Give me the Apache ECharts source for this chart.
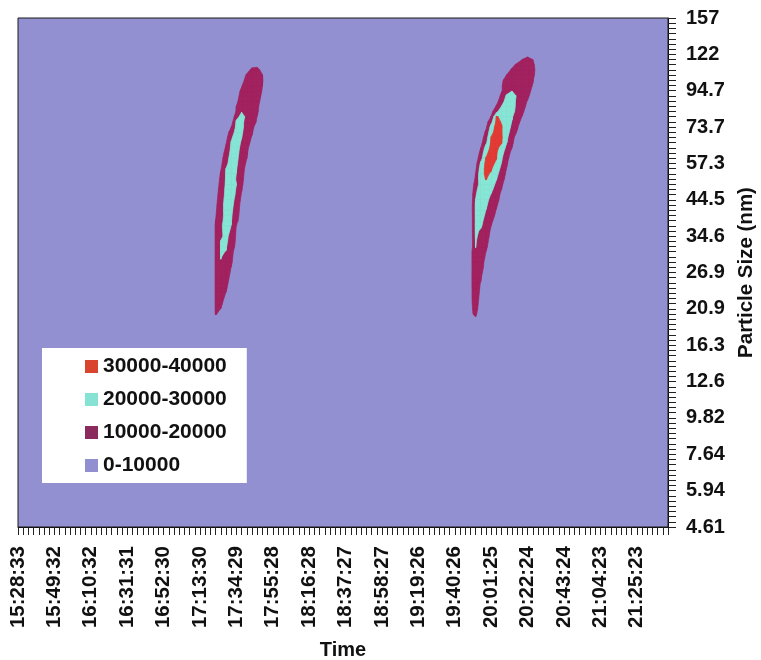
<!DOCTYPE html>
<html>
<head>
<meta charset="utf-8">
<script src="https://cdn.jsdelivr.net/npm/echarts@6/dist/echarts.min.js"></script>
<style>
  html, body { margin: 0; padding: 0; background: #ffffff; }
  #chart { width: 761px; height: 660px; }
</style>
</head>
<body>
<div id="chart"></div>
<script>
// Time axis: one labelled scan out of every seven
const timeLabels = ['15:28:33', '15:49:32', '16:10:32', '16:31:31', '16:52:30', '17:13:30',
  '17:34:29', '17:55:28', '18:16:28', '18:37:27', '18:58:27', '19:19:26', '19:40:26',
  '20:01:25', '20:22:24', '20:43:24', '21:04:23', '21:25:23'];
// Size channels, bottom to top: one labelled channel out of every seven
const sizeLabels = ['4.61', '5.94', '7.64', '9.82', '12.6', '16.3', '20.9', '26.9',
  '34.6', '44.5', '57.3', '73.7', '94.7', '122', '157'];
const scansPerLabel = 7;
const channelsPerLabel = 7;
const scanCount = 126;
const channelCount = 99;

// Number concentration (x1000 per cm3) around the first growth event,
// rows from channel 40 upwards, columns from scan 36.
const eventOneScan = 36;
const eventOneChannel = 40;
const eventOne = [
  [0, 2, 6, 4],
  [0, 3, 10.6, 8, 2],
  [0, 1, 11, 9.9, 3],
  [0, 1, 11, 12, 5.3, 1],
  [0, 1, 11, 12.5, 8.3, 3],
  [0, 1, 11, 13, 9.7, 4],
  [0, 1, 11, 13.5, 11, 6, 1],
  [0, 1, 11, 14, 12, 7, 2],
  [0, 1, 11, 14.5, 12.5, 8.3, 3],
  [0, 1, 11, 15, 13, 9.2, 4],
  [0, 1, 11, 16, 14, 9.9, 5],
  [0, 1, 11, 19.5, 14.5, 11, 6, 0.5],
  [0, 1, 11, 20.4, 18, 11.5, 6.5, 1],
  [0, 1, 11, 20.6, 19.8, 12, 7, 1],
  [0, 1, 11, 20.5, 20.8, 15, 7.5, 1],
  [0, 1, 11, 20.2, 21.5, 16.5, 8, 1],
  [0, 1, 11, 19, 21.5, 18, 8.5, 1.5],
  [0, 1, 11, 18.6, 22.5, 19, 9, 2],
  [0, 1, 11, 18, 24.7, 19.9, 9.7, 2],
  [0, 2, 10.1, 17.7, 23, 20.5, 13.5, 2.8],
  [0, 2, 9.2, 17.5, 22.3, 21, 15, 4.4],
  [0, 1.8, 8.4, 17.3, 22.6, 21.5, 16, 5.2],
  [0, 1.5, 7.6, 17, 22.9, 22, 17, 6],
  [0, 1, 6.8, 16, 22.7, 22.5, 18, 7.6, 1],
  [0, 0.5, 6, 15, 22.1, 23, 19, 9.2, 1],
  [0, 0.5, 5.2, 14, 22, 23, 19.5, 10.7, 2.8],
  [0, 0, 4.4, 13, 21.4, 23.8, 20.1, 12, 4.4],
  [0, 0, 3.6, 12, 21, 24.3, 19.3, 12.7, 5.2],
  [0, 0, 2.8, 11, 20.5, 24.8, 19.9, 13.3, 6],
  [0, 0, 1.2, 9.2, 20.1, 24.8, 20.5, 14, 6.8, 1],
  [0, 0, 1.5, 7.6, 17.8, 23.8, 21.4, 15.3, 8.4, 0.5],
  [0, 0, 0.5, 6, 16.3, 23.3, 21.9, 16.3, 10.1, 2],
  [0, 0, 0, 4.4, 13.8, 22.5, 22.5, 17.1, 11.2, 3.6],
  [0, 0, 0, 2.8, 11.3, 21.6, 23.2, 17.8, 12.2, 5.2],
  [0, 0, 0, 1.5, 9.2, 20.5, 24.2, 18.9, 13.7, 7.6, 1],
  [0, 0, 0, 1, 6.8, 18.6, 24.7, 20.2, 14.7, 9.2, 1],
  [0, 0, 0, 0, 4.4, 15, 23.7, 21.1, 16, 11, 3.6],
  [0, 0, 0, 0, 2, 9.8, 22.4, 21.8, 16.8, 12.3, 6],
  [0, 0, 0, 0, 1, 5, 21.7, 25, 12.5, 12, 9.5, 2],
  [0, 0, 0, 0, 0, 1, 17, 23, 18, 15, 9.8, 3],
  [0, 0, 0, 0, 1.5, 5.5, 10.5, 19.5, 19.8, 18, 11.5, 4, 1],
  [0, 0, 0, 0, 1, 5, 10.1, 17, 19.5, 19, 12, 5.3, 1],
  [0, 0, 0, 0, 0, 3, 7.4, 16, 19, 19.5, 15, 5, 1],
  [0, 0, 0, 0, 0, 2, 6, 14, 18.5, 19.5, 16, 7.4, 2],
  [0, 0, 0, 0, 0, 2, 6.5, 11.5, 18, 19.5, 17, 9.2, 2],
  [0, 0, 0, 0, 0, 1, 4, 9.2, 17, 19, 18, 10.1, 3],
  [0, 0, 0, 0, 0, 0, 2, 5, 15, 18, 17, 10.8, 3],
  [0, 0, 0, 0, 0, 0, 2, 6, 11, 16, 15, 10.2, 3],
  [0, 0, 0, 0, 0, 0, 1, 3, 7, 12, 12, 8, 2],
  [0, 0, 0, 0, 0, 0, 0, 1, 4, 7, 8, 5, 1]
];

// Second growth event, rows from channel 39 upwards, columns from scan 85.
const eventTwoScan = 85;
const eventTwoChannel = 39;
const eventTwo = [
  [0, 0, 3, 4, 2],
  [0, 1, 7, 9.5, 5],
  [0, 1, 9.4, 10.6, 7.6],
  [0, 1, 9.3, 11, 8.5],
  [0, 1, 9.2, 11.5, 8.5, 1],
  [0, 1, 9.1, 12, 8.7, 1],
  [0, 1, 8.9, 12.5, 8.9, 1],
  [0, 1, 8.7, 13, 9.2, 2],
  [0, 1, 8.5, 13.5, 9.6, 2],
  [0, 1, 8.3, 14, 11, 1],
  [0, 1, 7.9, 15, 12, 5.3],
  [0, 1, 7.4, 16, 12.5, 7.5, 1],
  [0, 1, 7, 17, 13, 8, 1],
  [0, 1, 6.6, 18, 14, 9, 2],
  [0, 1, 6.1, 19, 15, 9.9, 3],
  [0, 0, 3, 20.3, 16, 12, 5],
  [0, 0, 3, 20.5, 17, 13, 6, 1],
  [0, 0, 3, 21, 18, 14, 7.5, 1.5],
  [0, 0, 3, 21.5, 19, 15, 8.5, 2],
  [0, 0, 3, 21.5, 21, 16.5, 9.9, 3],
  [0, 0, 3, 21.5, 22, 17.5, 12.5, 5, 0.5],
  [0, 0, 3, 21.5, 22.5, 19, 14, 8, 1],
  [0, 0, 3.5, 21.5, 23, 19.9, 15, 9.5, 2],
  [0, 0, 3.5, 21.5, 24, 21, 17, 11.5, 4],
  [0, 0, 3, 20.2, 25, 22, 18, 13, 7, 1],
  [0, 0, 3, 19, 26, 24, 19.5, 14, 8, 1],
  [0, 0, 2, 17, 26, 26.5, 22, 16, 9.9, 3],
  [0, 0, 4.5, 13, 25, 28, 24.5, 18, 11.5, 5],
  [0, 0, 4, 11, 27, 30.5, 27, 20.5, 14, 6.5, 1],
  [0, 0, 3, 10.1, 27, 31.5, 29, 22.5, 15.5, 8, 1],
  [0, 0, 2, 8, 25, 32.5, 31, 25, 17.5, 9.5, 2],
  [0, 0, 1.5, 6, 22, 32.5, 33, 28, 19.5, 11, 3],
  [0, 0, 1, 4.5, 16, 30.5, 33.5, 30.5, 21, 13, 5],
  [0, 0, 0, 3, 13, 28, 33.5, 31, 23, 15, 7, 1],
  [0, 0, 0, 2, 10.1, 24, 32.5, 32, 27, 17, 9.9, 2],
  [0, 0, 0, 1.5, 7, 18, 32, 33, 30.5, 20.1, 12, 4],
  [0, 0, 0, 1, 5, 15, 30.5, 34, 31, 22, 13, 6, 1],
  [0, 0, 0, 0, 3, 12, 27, 34, 30.5, 23.5, 16, 9.2, 2],
  [0, 0, 0, 0, 2, 8, 24, 33.5, 30.5, 25, 18, 11, 5],
  [0, 0, 0, 0, 1, 6, 17, 32, 29.5, 27, 19.5, 13, 7, 1],
  [0, 0, 0, 0, 0, 2, 10.5, 30.5, 29, 27, 21, 14, 9.5, 3],
  [0, 0, 0, 0, 0, 1, 7, 17, 27, 29, 26, 14, 12, 5, 1],
  [0, 0, 0, 0, 0, 0, 3, 10.8, 20.2, 27, 25, 17, 13, 8, 1],
  [0, 0, 0, 0, 0, 0, 2, 7, 15, 25, 24, 18, 14, 9.5, 2],
  [0, 0, 0, 0, 0, 0, 1, 5.3, 12, 22, 23, 19.2, 17, 12, 5.3],
  [0, 0, 0, 0, 0, 0, 0, 3, 9.4, 15, 19.8, 19.5, 18.5, 15, 6.7, 0.5],
  [0, 0, 0, 0, 0, 0, 0, 1, 9.3, 15, 16, 19, 19.5, 17, 9.2, 1],
  [0, 0, 0, 0, 0, 0, 0, 0, 8.3, 14, 16, 17.5, 19, 18.5, 11, 1],
  [0, 0, 0, 0, 0, 0, 0, 0, 4, 10.5, 14, 16, 18, 18, 12.5, 4.2],
  [0, 0, 0, 0, 0, 0, 0, 0, 0, 5, 12, 14, 16, 17, 13, 5.5],
  [0, 0, 0, 0, 0, 0, 0, 0, 0, 0, 6, 13, 14, 16, 12, 5.3],
  [0, 0, 0, 0, 0, 0, 0, 0, 0, 0, 0, 3, 10.2, 13, 9.9, 3],
  [0, 0, 0, 0, 0, 0, 0, 0, 0, 0, 0, 2, 5, 7, 6, 3]
];

// Contour bands (x1000 per cm3)
const bandLimits = [0, 10, 20, 30, 40];
const bandNames = ['0-10000', '10000-20000', '20000-30000', '30000-40000'];
const bandColors = ['#9290d0', '#a2215f', '#86e6d6', '#e23a33'];
const legendColors = ['#918fcf', '#8b2a5c', '#86e3d3', '#d9442f'];

// Full scan x channel field, zero outside the two events
const field = Array.from({ length: channelCount }, () => new Array(scanCount).fill(0));
function place(rows, scan0, channel0) {
  rows.forEach((row, dj) => row.forEach((v, di) => { field[channel0 + dj][scan0 + di] = v; }));
}
place(eventOne, eventOneScan, eventOneChannel);
place(eventTwo, eventTwoScan, eventTwoChannel);

// Grid cells touching a given level
function cellsAbove(level) {
  const cells = [];
  for (let j = 0; j < channelCount - 1; j++) {
    for (let i = 0; i < scanCount - 1; i++) {
      const m = Math.max(field[j][i], field[j][i + 1], field[j + 1][i], field[j + 1][i + 1]);
      if (m >= level) cells.push([i, j]);
    }
  }
  return cells;
}

// Part of one grid cell at or above a level, with linear interpolation along the edges
function cellRegion(i, j, level) {
  const pts = [[i, j], [i + 1, j], [i + 1, j + 1], [i, j + 1]];
  const vals = [field[j][i], field[j][i + 1], field[j + 1][i + 1], field[j + 1][i]];
  const out = [];
  for (let k = 0; k < 4; k++) {
    const n = (k + 1) % 4;
    const a = vals[k], b = vals[n];
    if (a >= level) out.push(pts[k]);
    if ((a >= level) !== (b >= level)) {
      const f = (level - a) / (b - a);
      out.push([pts[k][0] + f * (pts[n][0] - pts[k][0]), pts[k][1] + f * (pts[n][1] - pts[k][1])]);
    }
  }
  return out;
}

const font = '"Liberation Sans", Arial, sans-serif';
const chart = echarts.init(document.getElementById('chart'), null, { renderer: 'canvas' });

const series = [{
  type: 'custom',
  name: bandNames[0],
  xAxisIndex: 1,
  yAxisIndex: 1,
  z: 1,
  itemStyle: { color: bandColors[0] },
  encode: { x: 0, y: 1 },
  data: [[scanCount - 1, channelCount - 1]],
  renderItem: function (params, api) {
    const p0 = api.coord([0, 0]);
    const p1 = api.coord([api.value(0), api.value(1)]);
    return {
      type: 'rect',
      shape: { x: p0[0], y: p1[1], width: p1[0] - p0[0], height: p0[1] - p1[1] },
      style: { fill: bandColors[0] }
    };
  }
}];

for (let b = 1; b < bandNames.length; b++) {
  const level = bandLimits[b];
  const color = bandColors[b];
  series.push({
    type: 'custom',
    name: bandNames[b],
    xAxisIndex: 1,
    yAxisIndex: 1,
    z: 1 + b,
    itemStyle: { color: color },
    encode: { x: 0, y: 1 },
    data: cellsAbove(level),
    renderItem: function (params, api) {
      const poly = cellRegion(api.value(0), api.value(1), level);
      if (poly.length < 3) return null;
      return {
        type: 'polygon',
        shape: { points: poly.map(p => api.coord(p)) },
        style: { fill: color, stroke: color, lineWidth: 0.7 }
      };
    }
  });
}

const scanIndex = Array.from({ length: scanCount }, (_, i) => i);
const channelIndex = Array.from({ length: channelCount }, (_, i) => i);
const labelText = { fontFamily: font, fontWeight: 'bold', fontSize: 20, color: '#111' };
const hiddenAxis = { show: false, axisLine: { show: false, onZero: false }, axisTick: { show: false }, axisLabel: { show: false }, splitLine: { show: false } };

chart.setOption({
  animation: false,
  backgroundColor: '#ffffff',
  grid: {
    left: 18, right: 93, top: 18, bottom: 133,
    outerBoundsMode: 'none',
    containLabel: false,
    show: true, z: 10,
    backgroundColor: 'transparent',
    borderColor: '#1a1a1a', borderWidth: 1
  },
  legend: {
    orient: 'vertical',
    left: 42, top: 348,
    backgroundColor: '#ffffff',
    padding: [8, 20, 7, 43],
    itemGap: 12,
    itemWidth: 13, itemHeight: 13,
    icon: 'rect',
    selectedMode: false,
    textStyle: { fontFamily: font, fontWeight: 'bold', fontSize: 21, color: '#111' },
    data: [3, 2, 1, 0].map(k => ({ name: bandNames[k], itemStyle: { color: legendColors[k] } }))
  },
  xAxis: [{
    type: 'category',
    data: scanIndex,
    boundaryGap: false,
    position: 'bottom',
    z: 10,
    name: 'Time',
    nameLocation: 'middle',
    nameGap: 113,
    nameTextStyle: { fontFamily: font, fontWeight: 'bold', fontSize: 20, color: '#111' },
    axisLine: { onZero: false, lineStyle: { color: '#111', width: 1 } },
    axisTick: { inside: false, interval: 0, length: 8, lineStyle: { color: '#222', width: 1 } },
    axisLabel: Object.assign({
      interval: scansPerLabel - 1,
      rotate: 90,
      margin: 19,
      formatter: (v, idx) => idx % scansPerLabel === 0 ? timeLabels[idx / scansPerLabel] : ''
    }, labelText, { fontSize: 20.5 }),
    splitLine: { show: false }
  }, Object.assign({ type: 'value', min: 0, max: scanCount - 1, position: 'top' }, hiddenAxis)],
  yAxis: [{
    type: 'category',
    data: channelIndex,
    boundaryGap: false,
    position: 'right',
    z: 10,
    name: 'Particle Size (nm)',
    nameLocation: 'middle',
    nameRotate: 90,
    nameGap: 66,
    nameTextStyle: { fontFamily: font, fontWeight: 'bold', fontSize: 20.5, color: '#111' },
    axisLine: { onZero: false, lineStyle: { color: '#111', width: 1 } },
    axisTick: { inside: false, interval: 0, length: 8, lineStyle: { color: '#222', width: 1 } },
    axisLabel: Object.assign({
      interval: channelsPerLabel - 1,
      margin: 18,
      formatter: (v, idx) => idx % channelsPerLabel === 0 ? sizeLabels[idx / channelsPerLabel] : ''
    }, labelText),
    splitLine: { show: false }
  }, Object.assign({ type: 'value', min: 0, max: channelCount - 1, position: 'left' }, hiddenAxis)],
  series: series
});
</script>
</body>
</html>
